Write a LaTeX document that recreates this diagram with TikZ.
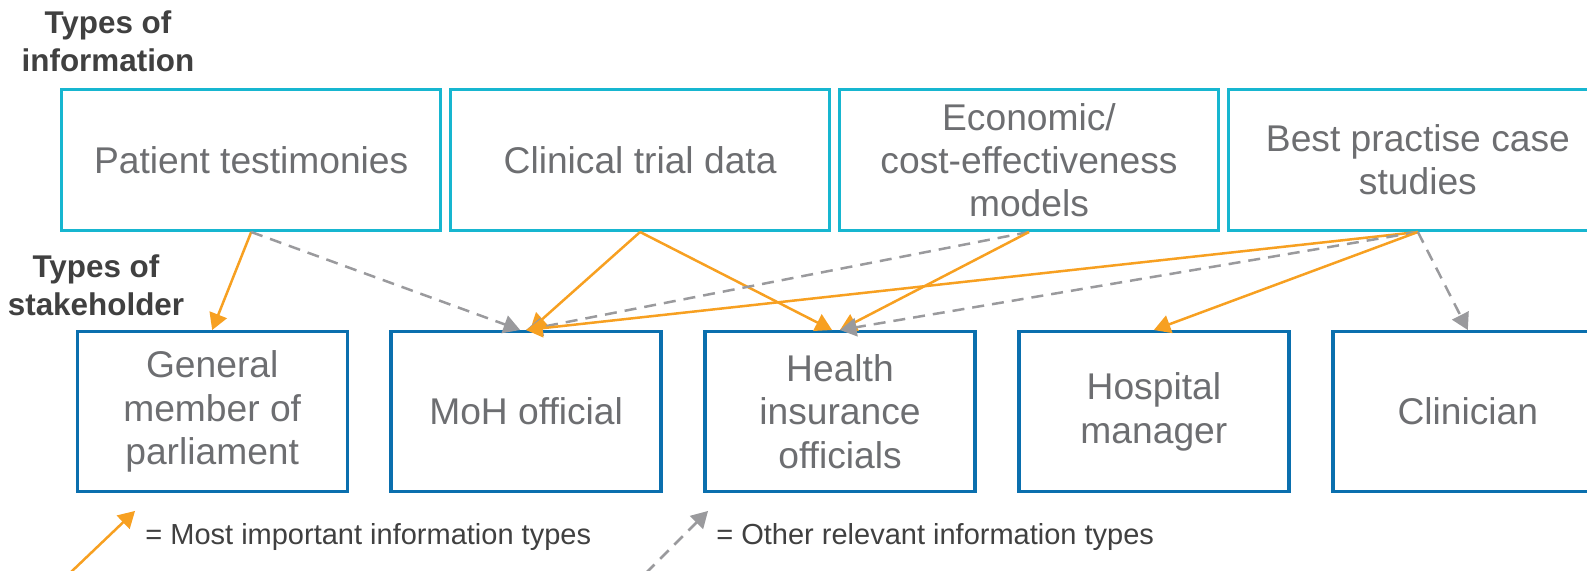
\documentclass[tikz,border=0pt]{standalone}
\usepackage{fontspec}
\setmainfont{Liberation Sans}
\usepackage{tikz}
\usetikzlibrary{positioning}
\usetikzlibrary{arrows}

\definecolor{infocyan}{HTML}{17B6D0}
\definecolor{stakeblue}{HTML}{0A6FAE}
\definecolor{boxtext}{HTML}{6D6E71}
\definecolor{headtext}{HTML}{404040}
\definecolor{keyorange}{HTML}{F7A021}
\definecolor{othergray}{HTML}{9A9A9D}

\begin{document}
\begin{tikzpicture}[x=0.5pt,y=-0.5pt]
  \tikzset{infobox/.style={draw=infocyan, line width=1.7pt, minimum width=189.5pt, minimum height=70.3pt,
      inner sep=0pt, align=center, text=boxtext, font=\fontsize{18.6}{21.4}\selectfont}};
  \tikzset{stakebox/.style={draw=stakeblue, line width=1.7pt, minimum width=135pt, minimum height=80pt,
      inner sep=0pt, align=center, text=boxtext, font=\fontsize{18.6}{21.8}\selectfont}};
  \tikzset{header/.style={align=center, text=headtext, font=\bfseries\fontsize{15.7}{19.2}\selectfont}};
  \tikzset{keytext/.style={anchor=west, inner sep=0pt, text=headtext, font=\fontsize{14.5}{17}\selectfont}};
  \tikzset{keyedge/.style={->, draw=keyorange, line width=1.25pt, >=triangle 60}};
  \tikzset{otheredge/.style={->, draw=othergray, line width=1.25pt, dash pattern=on 6pt off 4pt, >=triangle 60}};

  \useasboundingbox (0,0) rectangle (1587,571);

  % information types
  \node[header] (infohead) at (108,41) {Types of\\information};
  \node[infobox, anchor=north west] (patient) at (60,88) {Patient testimonies};
  \node[infobox, right=3.25pt of patient] (trial) {Clinical trial data};
  \node[infobox, right=3.25pt of trial] (econ) {Economic/\\cost-effectiveness\\models};
  \node[infobox, right=3.25pt of econ] (best) {Best practise case\\studies};

  % stakeholders
  \node[header] (stakehead) at (96,285) {Types of\\stakeholder};
  \node[stakebox, anchor=north west] (member) at (75.5,330) {General\\member of\\parliament};
  \node[stakebox, right=20.25pt of member] (moh) {MoH official};
  \node[stakebox, right=20.25pt of moh] (health) {Health\\insurance\\officials};
  \node[stakebox, right=20.25pt of health] (hospital) {Hospital\\manager};
  \node[stakebox, right=20.25pt of hospital] (clinician) {Clinician};

  \draw [keyedge] (patient.south) -- (member.north);
  \draw [otheredge] (patient.south) -- ([xshift=-3pt]moh.north);
  \draw [keyedge] (trial.south) -- ([xshift=2pt]moh.north);
  \draw [keyedge] (trial.south) -- ([xshift=-4pt]health.north);
  \draw [otheredge] (econ.south) -- (moh.north);
  \draw [keyedge] (econ.south) -- (health.north);
  \draw [keyedge] (best.south) -- (moh.north);
  \draw [otheredge] (best.south) -- (health.north);
  \draw [keyedge] (best.south) -- (hospital.north);
  \draw [otheredge] (best.south) -- (clinician.north);

  % legend
  \coordinate (keyA) at (70,573);  \coordinate (keyB) at (135,511);
  \draw [keyedge] (keyA) -- (keyB);
  \node[keytext] (keymost) at (145,537) {= Most important information types};
  \coordinate (keyC) at (646,573);  \coordinate (keyD) at (708,511);
  \draw [otheredge] (keyC) -- (keyD);
  \node[keytext] (keyother) at (716,537) {= Other relevant information types};
\end{tikzpicture}
\end{document}
